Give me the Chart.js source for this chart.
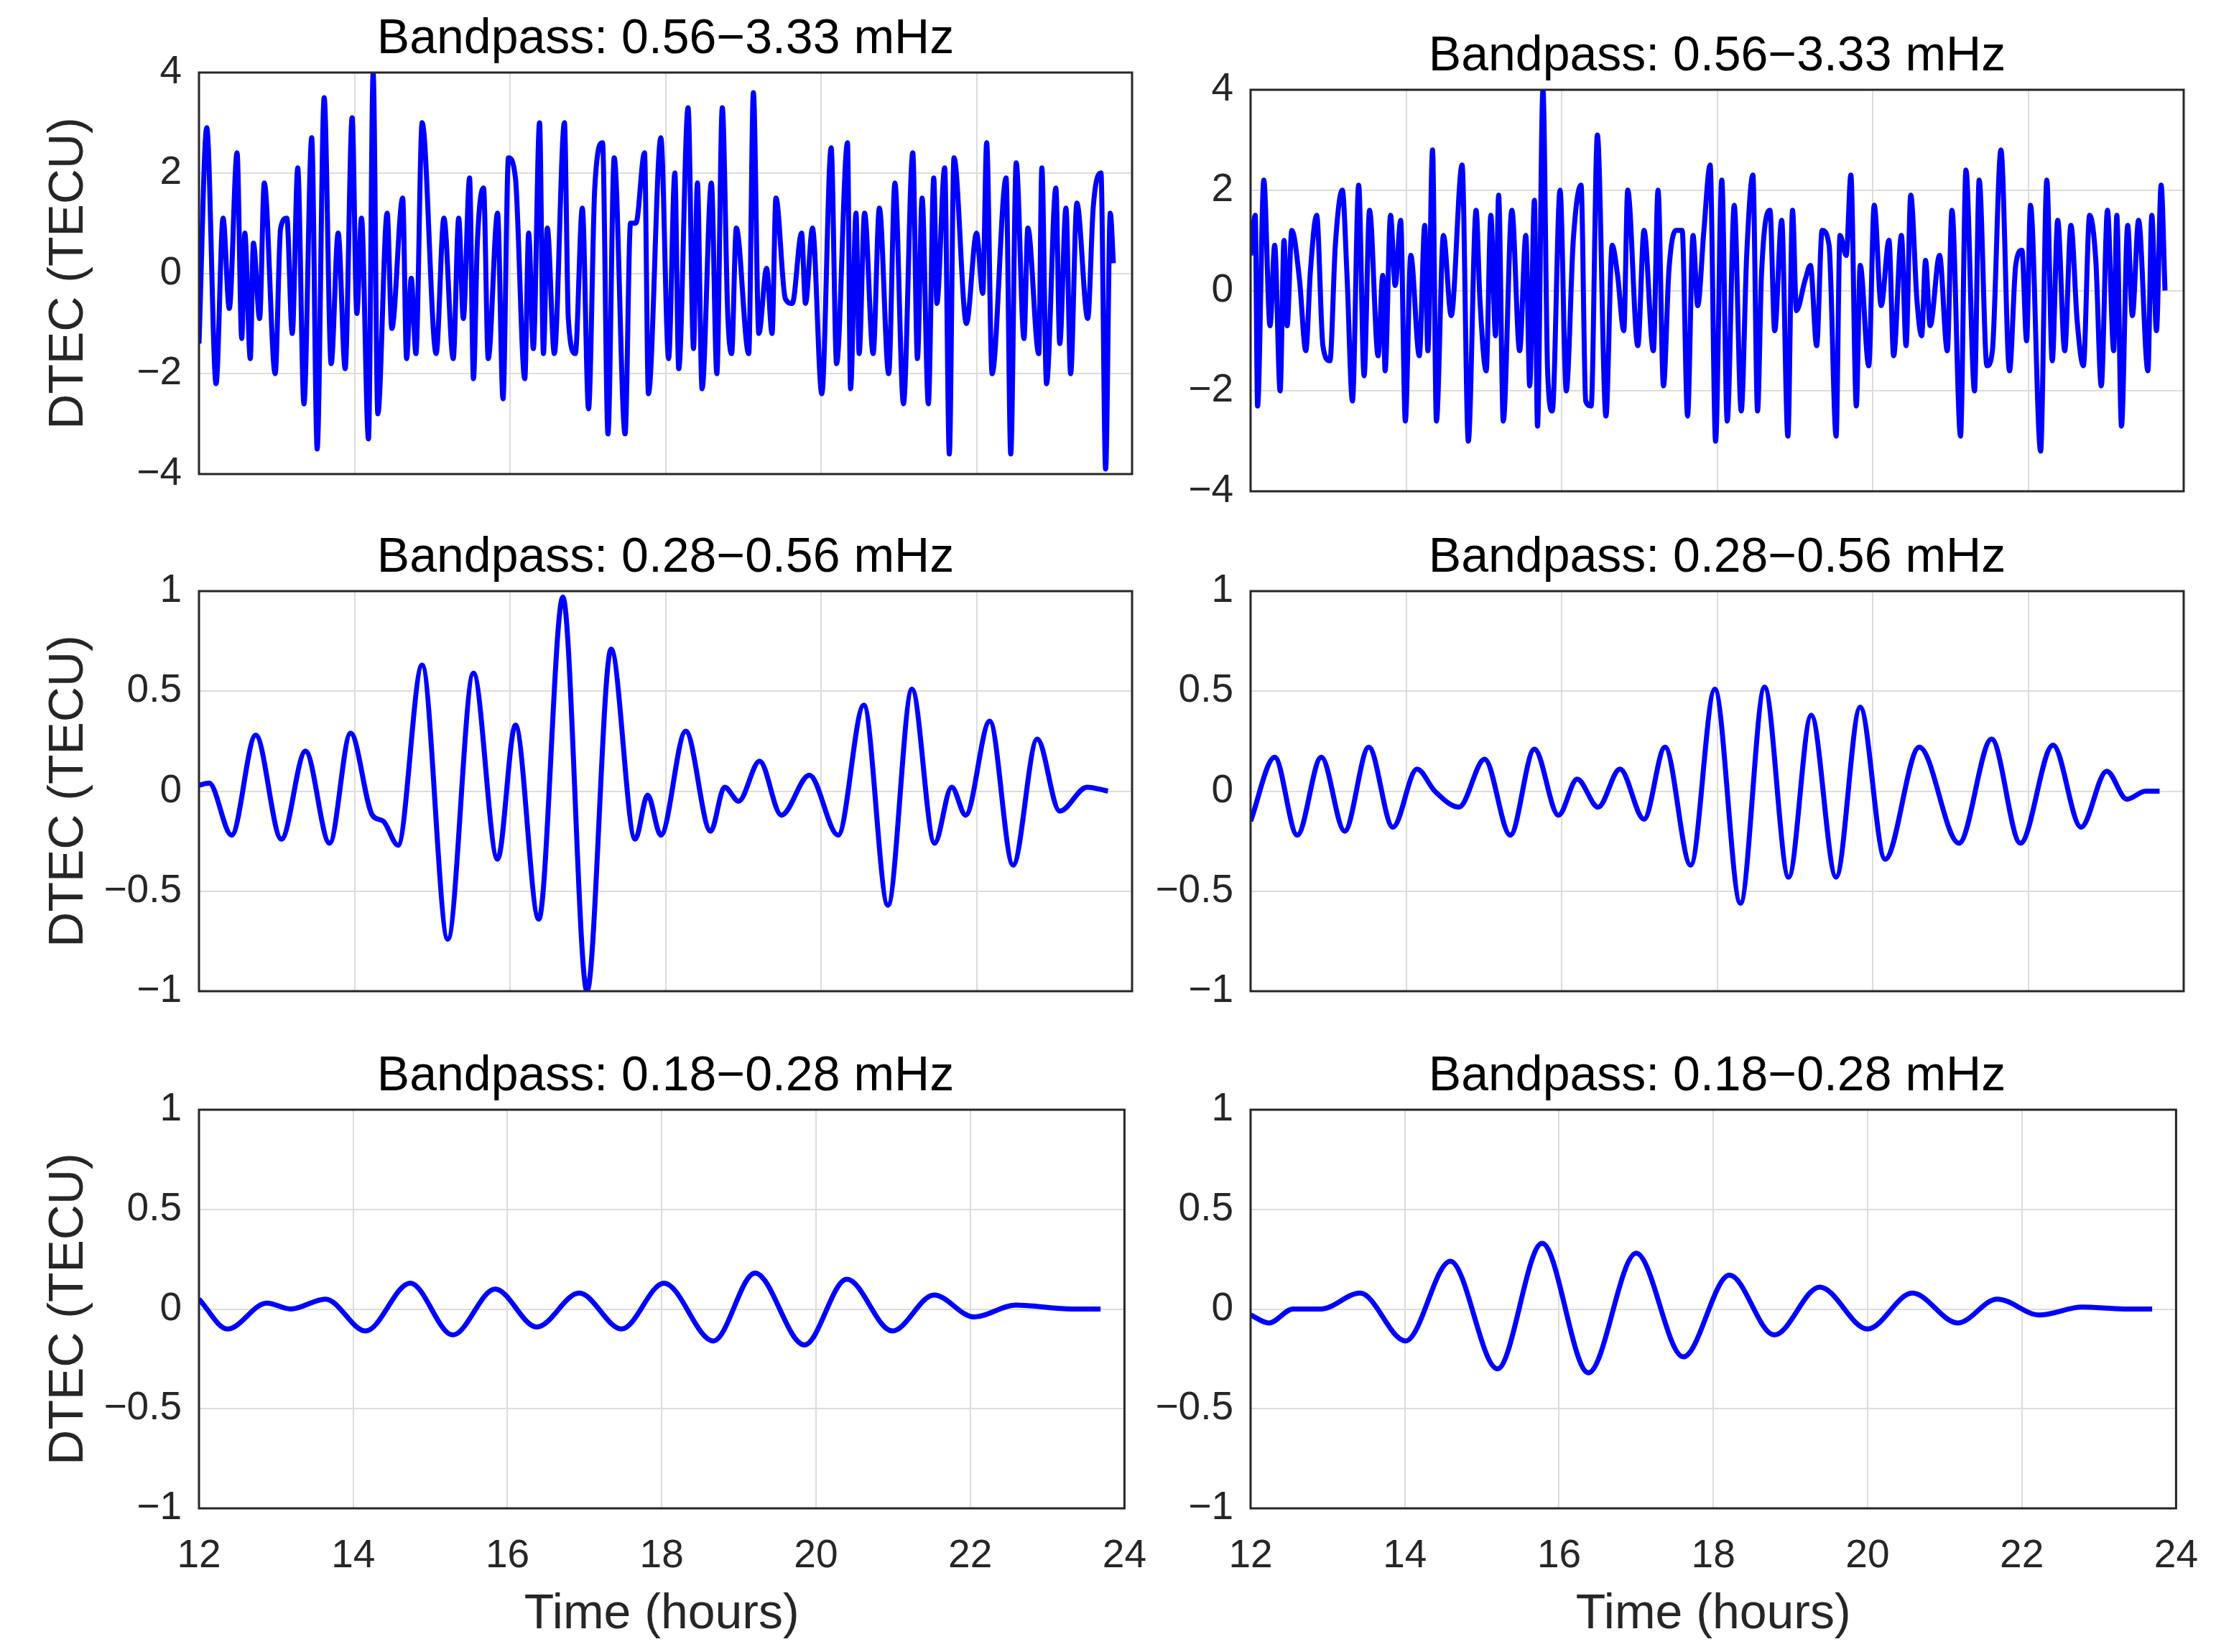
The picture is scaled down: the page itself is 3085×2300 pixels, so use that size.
<!DOCTYPE html>
<html><head><meta charset="utf-8">
<script src="https://cdn.jsdelivr.net/npm/chart.js@4"></script>
<style>
body{margin:0;background:#fff;width:3085px;height:2300px;position:relative;overflow:hidden;font-family:"Liberation Sans",Arial,sans-serif;}
.c{position:absolute;}
canvas{display:block;}
.t{position:absolute;font-size:68px;color:#000;text-align:center;width:1299px;white-space:nowrap;line-height:1;}
</style></head><body>
<script>
// ---- data ----
const tTL=[12.00,12.10,12.22,12.31,12.39,12.49,12.55,12.59,12.66,12.70,12.78,12.84,12.98,13.05,13.13,13.20,13.27,13.35,13.45,13.52,13.61,13.70,13.79,13.88,13.97,14.03,14.09,14.18,14.24,14.30,14.42,14.48,14.62,14.67,14.73,14.79,14.87,15.05,15.15,15.27,15.34,15.40,15.48,15.53,15.58,15.66,15.72,15.84,15.91,15.98,16.07,16.19,16.24,16.30,16.38,16.43,16.48,16.57,16.70,16.75,16.84,16.93,17.01,17.09,17.19,17.26,17.34,17.48,17.55,17.62,17.73,17.78,17.94,18.04,18.12,18.17,18.29,18.36,18.41,18.47,18.59,18.66,18.73,18.80,18.85,18.91,19.07,19.13,19.20,19.30,19.37,19.42,19.54,19.63,19.75,19.80,19.89,20.01,20.13,20.20,20.34,20.38,20.45,20.49,20.56,20.67,20.75,20.87,20.95,21.06,21.18,21.24,21.30,21.38,21.45,21.49,21.59,21.65,21.71,21.87,22.00,22.08,22.13,22.20,22.38,22.44,22.51,22.61,22.66,22.80,22.84,22.90,23.02,23.07,23.15,23.21,23.29,23.43,23.50,23.60,23.66,23.72,23.76];
const vTL=[-1.4,2.9,-2.2,1.1,-0.7,2.4,-1.3,0.8,-1.7,0.6,-0.9,1.8,-2.0,0.9,1.1,-1.2,2.1,-2.6,2.7,-3.5,3.5,-1.8,0.8,-1.9,3.1,-0.8,1.1,-3.3,4.0,-2.8,1.2,-1.1,1.5,-1.7,-0.1,-1.6,3.0,-1.6,1.1,-1.7,1.1,-0.9,1.9,-2.1,0.6,1.7,-1.7,1.2,-2.5,2.3,1.9,-2.1,0.8,-1.5,3.0,-1.6,0.9,-1.6,3.0,-0.9,-1.6,1.3,-2.7,1.7,2.6,-3.2,2.3,-3.2,1.0,1.0,2.4,-2.4,2.7,-1.7,2.0,-1.9,3.3,-1.5,1.8,-2.3,1.8,-2.0,3.3,-0.8,-1.6,0.9,-1.6,3.6,-1.2,0.1,-1.2,1.5,-0.5,-0.6,0.8,-0.6,0.9,-2.4,2.5,-1.8,2.6,-2.3,1.2,-1.6,1.2,-1.6,1.3,-2.0,1.8,-2.6,2.4,-1.7,1.5,-2.6,1.9,-0.6,2.1,-3.6,2.3,-1.0,0.8,-0.4,2.6,-2.0,1.9,-3.6,2.2,-1.3,0.9,-1.6,2.1,-2.2,1.7,-1.4,1.3,-2.0,1.4,-0.9,1.3,2.0,-3.9,1.2,0.2];
const tTR=[12.00,12.06,12.09,12.17,12.25,12.31,12.38,12.43,12.47,12.53,12.63,12.71,12.77,12.85,12.93,13.02,13.09,13.18,13.24,13.31,13.39,13.46,13.53,13.64,13.70,13.73,13.80,13.86,13.93,13.99,14.06,14.17,14.24,14.28,14.34,14.39,14.48,14.58,14.72,14.80,14.90,14.95,15.03,15.09,15.15,15.19,15.25,15.36,15.46,15.54,15.59,15.65,15.69,15.76,15.82,15.88,15.98,16.06,16.15,16.25,16.31,16.38,16.46,16.57,16.65,16.72,16.80,16.85,16.98,17.06,17.18,17.24,17.31,17.38,17.47,17.55,17.62,17.69,17.75,17.83,17.91,17.98,18.06,18.13,18.22,18.31,18.38,18.46,18.52,18.57,18.68,18.74,18.83,18.91,18.97,19.02,19.13,19.20,19.28,19.35,19.44,19.53,19.58,19.66,19.72,19.79,19.84,19.95,20.02,20.11,20.21,20.27,20.37,20.43,20.49,20.57,20.63,20.68,20.74,20.86,20.96,21.02,21.13,21.20,21.31,21.37,21.47,21.54,21.65,21.76,21.84,21.92,21.98,22.03,22.16,22.24,22.31,22.38,22.47,22.55,22.63,22.71,22.79,22.87,22.94,23.02,23.10,23.14,23.20,23.28,23.34,23.42,23.54,23.59,23.65,23.71,23.76];
const vTR=[0.7,1.5,-2.3,2.2,-0.7,0.9,-2.0,1.0,-0.7,1.2,0.2,-1.2,0.4,1.5,-1.1,-1.4,0.9,2.0,0.3,-2.2,2.1,-1.7,1.6,-1.3,0.3,-1.6,1.5,0.1,1.4,-2.6,0.7,-1.3,1.3,-1.2,2.8,-2.6,1.1,-0.5,2.5,-3.0,1.6,-0.2,-1.6,1.5,-0.9,1.9,-2.6,1.6,-1.2,1.1,-1.9,1.8,-2.7,4.0,-1.6,-2.4,2.0,-2.0,1.0,2.1,-2.2,-2.3,3.1,-2.5,0.9,0.3,-0.8,2.0,-1.1,1.2,-1.2,2.0,-1.9,0.4,1.2,1.2,-2.5,1.1,-0.3,1.2,2.5,-3.0,2.2,-2.6,1.7,-2.4,0.7,2.3,-2.4,0.3,1.6,-0.8,1.4,-2.9,1.6,-0.4,0.2,0.5,-1.1,1.2,0.9,-2.9,1.1,0.7,2.3,-2.3,0.5,-1.5,1.7,-0.3,1.0,-1.3,1.1,-1.1,1.9,-0.2,-0.9,0.6,-0.7,0.7,-1.2,1.6,-2.9,2.4,-2.0,2.2,-1.5,-1.2,2.8,-1.6,0.5,0.8,-1.0,1.7,-3.2,2.2,-1.4,1.4,-1.2,1.3,-0.6,-1.5,1.5,0.6,-1.9,1.6,-1.2,1.5,-2.7,1.3,-0.5,1.4,-1.6,1.5,-0.8,2.1,0.0];
const tML=[12.00,12.13,12.42,12.73,13.06,13.37,13.68,13.95,14.23,14.37,14.56,14.87,15.20,15.53,15.84,16.07,16.37,16.68,16.99,17.30,17.61,17.77,17.94,18.26,18.58,18.76,18.94,19.21,19.49,19.85,20.22,20.55,20.86,21.17,21.46,21.68,21.86,22.17,22.47,22.78,23.07,23.42,23.69];
const vML=[0.03,0.04,-0.22,0.28,-0.24,0.2,-0.26,0.29,-0.12,-0.15,-0.27,0.63,-0.74,0.59,-0.34,0.33,-0.64,0.97,-1.0,0.71,-0.24,-0.02,-0.22,0.3,-0.2,0.02,-0.05,0.15,-0.12,0.08,-0.22,0.43,-0.57,0.51,-0.26,0.02,-0.12,0.35,-0.37,0.26,-0.1,0.02,0.0];
const tMR=[12.00,12.31,12.60,12.91,13.21,13.52,13.83,14.14,14.37,14.68,15.01,15.34,15.65,15.96,16.20,16.47,16.75,17.06,17.33,17.66,17.97,18.30,18.61,18.92,19.21,19.53,19.84,20.16,20.60,21.11,21.53,21.90,22.32,22.68,23.01,23.27,23.51,23.69];
const vMR=[-0.15,0.17,-0.22,0.17,-0.2,0.22,-0.18,0.11,0.0,-0.08,0.16,-0.22,0.21,-0.12,0.06,-0.08,0.11,-0.14,0.22,-0.37,0.51,-0.56,0.52,-0.43,0.38,-0.43,0.42,-0.34,0.22,-0.26,0.26,-0.26,0.23,-0.18,0.1,-0.04,0.0,0.0];
const tBL=[12.00,12.37,12.88,13.19,13.64,14.16,14.74,15.29,15.84,16.38,16.93,17.48,18.03,18.67,19.21,19.85,20.40,20.99,21.53,22.05,22.59,23.32,23.69];
const vBL=[0.05,-0.1,0.03,0.0,0.05,-0.11,0.13,-0.13,0.1,-0.09,0.08,-0.1,0.13,-0.16,0.18,-0.18,0.15,-0.11,0.07,-0.04,0.02,0.0,0.0];
const tBR=[12.00,12.24,12.55,12.91,13.42,14.01,14.59,15.20,15.78,16.38,17.00,17.61,18.21,18.79,19.38,20.00,20.58,21.17,21.68,22.23,22.78,23.33,23.69];
const vBR=[-0.03,-0.07,0.0,0.0,0.08,-0.16,0.24,-0.3,0.33,-0.32,0.28,-0.24,0.17,-0.13,0.11,-0.1,0.08,-0.07,0.05,-0.03,0.01,0.0,0.0];
const xTicks=[12,14,16,18,20,22,24];
const titles=['Bandpass: 0.56\u22123.33 mHz','Bandpass: 0.28\u22120.56 mHz','Bandpass: 0.18\u22120.28 mHz'];
const yLabel='DTEC (TECU)', xLabel='Time (hours)';

const PW=1299, YW=277, PAD=30, LBL=25;
const border={id:'border',afterDatasetsDraw(c){const a=c.chartArea,x=c.ctx;x.save();x.strokeStyle='#262626';x.lineWidth=3;x.strokeRect(a.left,a.top,a.right-a.left,a.bottom-a.top);x.restore();}};
function fmt(v){v=Math.round(v*100)/100;return v<0?'\u2212'+Math.abs(v):String(v);}
function panel(opts){
  const bottom=opts.bottom, h=opts.plotH, xh=bottom?193:2;
  const W=YW+PW+PAD+(bottom?24:0), H=PAD+LBL+h+(bottom?193:PAD+28);
  const wrap=document.createElement('div');wrap.className='c';
  wrap.style.left=(opts.plotLeft-YW)+'px';wrap.style.top=(opts.plotTop-PAD-LBL)+'px';
  wrap.style.width=W+'px';wrap.style.height=H+'px';
  const cv=document.createElement('canvas');cv.width=W;cv.height=H;cv.style.width=W+'px';cv.style.height=H+'px';
  wrap.appendChild(cv);document.body.appendChild(wrap);
  const t=document.createElement('div');t.className='t';t.textContent=opts.title;t.style.left=opts.plotLeft+'px';t.style.top=(opts.plotTop-83)+'px';document.body.appendChild(t);
  new Chart(cv,{type:'line',data:{datasets:[{data:opts.t.map((x,i)=>({x:x,y:opts.v[i]})),borderColor:'#0000ff',borderWidth:7,pointRadius:0,cubicInterpolationMode:'monotone',fill:false}]},
  options:{responsive:false,maintainAspectRatio:false,animation:false,devicePixelRatio:1,
   layout:{padding:{top:PAD,right:PAD,left:0,bottom:0}},
   plugins:{legend:{display:false},tooltip:{enabled:false}},
   scales:{
    x:{type:'linear',min:12,max:24,afterBuildTicks(s){s.ticks=xTicks.map(v=>({value:v}));},afterFit(s){s.height=xh;},
      grid:{color:'#dcdcdc',lineWidth:2,drawTicks:false},border:{display:false},
      ticks:{display:bottom,padding:34,font:{size:55,family:'Liberation Sans'},color:'#262626',maxRotation:0},
      title:{display:bottom,text:xLabel,font:{size:68,family:'Liberation Sans'},color:'#262626',padding:{top:8}}},
    y:{min:opts.ymin,max:opts.ymax,afterFit(s){s.width=YW;},
      grid:{color:'#dcdcdc',lineWidth:2,drawTicks:false},border:{display:false},
      ticks:{stepSize:opts.step,padding:24,font:{size:55,family:'Liberation Sans'},color:'#262626',callback:fmt},
      title:{display:opts.ylab,text:yLabel,font:{size:68,family:'Liberation Sans'},color:'#262626',padding:{top:55,bottom:0}}}
   }},plugins:[border]});
}
const L=277,R=1741;
panel({plotLeft:L,plotTop:99,plotH:560,t:tTL,v:vTL,ymin:-4,ymax:4,step:2,title:titles[0],ylab:true,bottom:false});
panel({plotLeft:R,plotTop:123,plotH:560,t:tTR,v:vTR,ymin:-4,ymax:4,step:2,title:titles[0],ylab:false,bottom:false});
panel({plotLeft:L,plotTop:821,plotH:558,t:tML,v:vML,ymin:-1,ymax:1,step:0.5,title:titles[1],ylab:true,bottom:false});
panel({plotLeft:R,plotTop:821,plotH:558,t:tMR,v:vMR,ymin:-1,ymax:1,step:0.5,title:titles[1],ylab:false,bottom:false});
panel({plotLeft:L,plotTop:1543,plotH:557,t:tBL,v:vBL,ymin:-1,ymax:1,step:0.5,title:titles[2],ylab:true,bottom:true});
panel({plotLeft:R,plotTop:1543,plotH:557,t:tBR,v:vBR,ymin:-1,ymax:1,step:0.5,title:titles[2],ylab:false,bottom:true});
</script>
</body></html>
